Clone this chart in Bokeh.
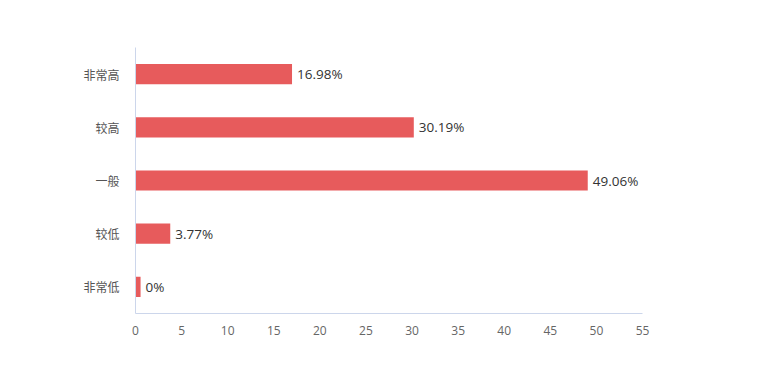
from bokeh.plotting import figure
from bokeh.models import Range1d, FactorRange, ColumnDataSource, FixedTicker
from bokeh.core.properties import value
from bokeh.embed import file_html
from bokeh.resources import INLINE

categories = ["非常高", "较高", "一般", "较低", "非常低"]
values = [16.98, 30.19, 49.06, 3.77, 0]
labels = ["16.98%", "30.19%", "49.06%", "3.77%", "0%"]
x_ticks = [0, 5, 10, 15, 20, 25, 30, 35, 40, 45, 50, 55]

MIN_LEN = 0.55  # minimum visible bar length (like a chart's minPointLength)
shown = [max(v, MIN_LEN) for v in values]

src = ColumnDataSource(dict(cat=categories, val=shown, lab=labels))

FONT = "Noto Sans CJK SC"
NUMFONT = "Open Sans"
p = figure(width=757, height=354, output_backend="svg", toolbar_location=None,
           x_range=Range1d(0, 55), y_range=FactorRange(factors=categories[::-1], range_padding=0),
           min_border_left=135, min_border_right=115, min_border_top=47, min_border_bottom=41)
p.outline_line_color = None
p.xgrid.grid_line_color = None
p.ygrid.grid_line_color = None

p.hbar(y="cat", right="val", left=0, height=0.38, source=src,
       fill_color="#e75b5c", line_color=None)
p.text(x="val", y="cat", text="lab", source=src, x_offset=5,
       text_baseline="middle", text_align="left", text_font=value(NUMFONT),
       text_font_size="13.5px", text_color="#333333")

p.xaxis.ticker = FixedTicker(ticks=x_ticks)
for ax in (p.xaxis[0], p.yaxis[0]):
    ax.axis_line_color = "#ccd6eb"
    ax.major_tick_line_color = None
    ax.minor_tick_line_color = None
    ax.major_label_text_font_size = "12px"
p.xaxis.major_label_text_color = "#666666"
p.yaxis.major_label_text_color = "#555555"
p.xaxis.major_label_text_font = NUMFONT
p.yaxis.major_label_text_font = FONT
p.xaxis.major_label_standoff = 6
p.yaxis.major_label_standoff = 10

open("out.html", "w").write(file_html(p, INLINE))
